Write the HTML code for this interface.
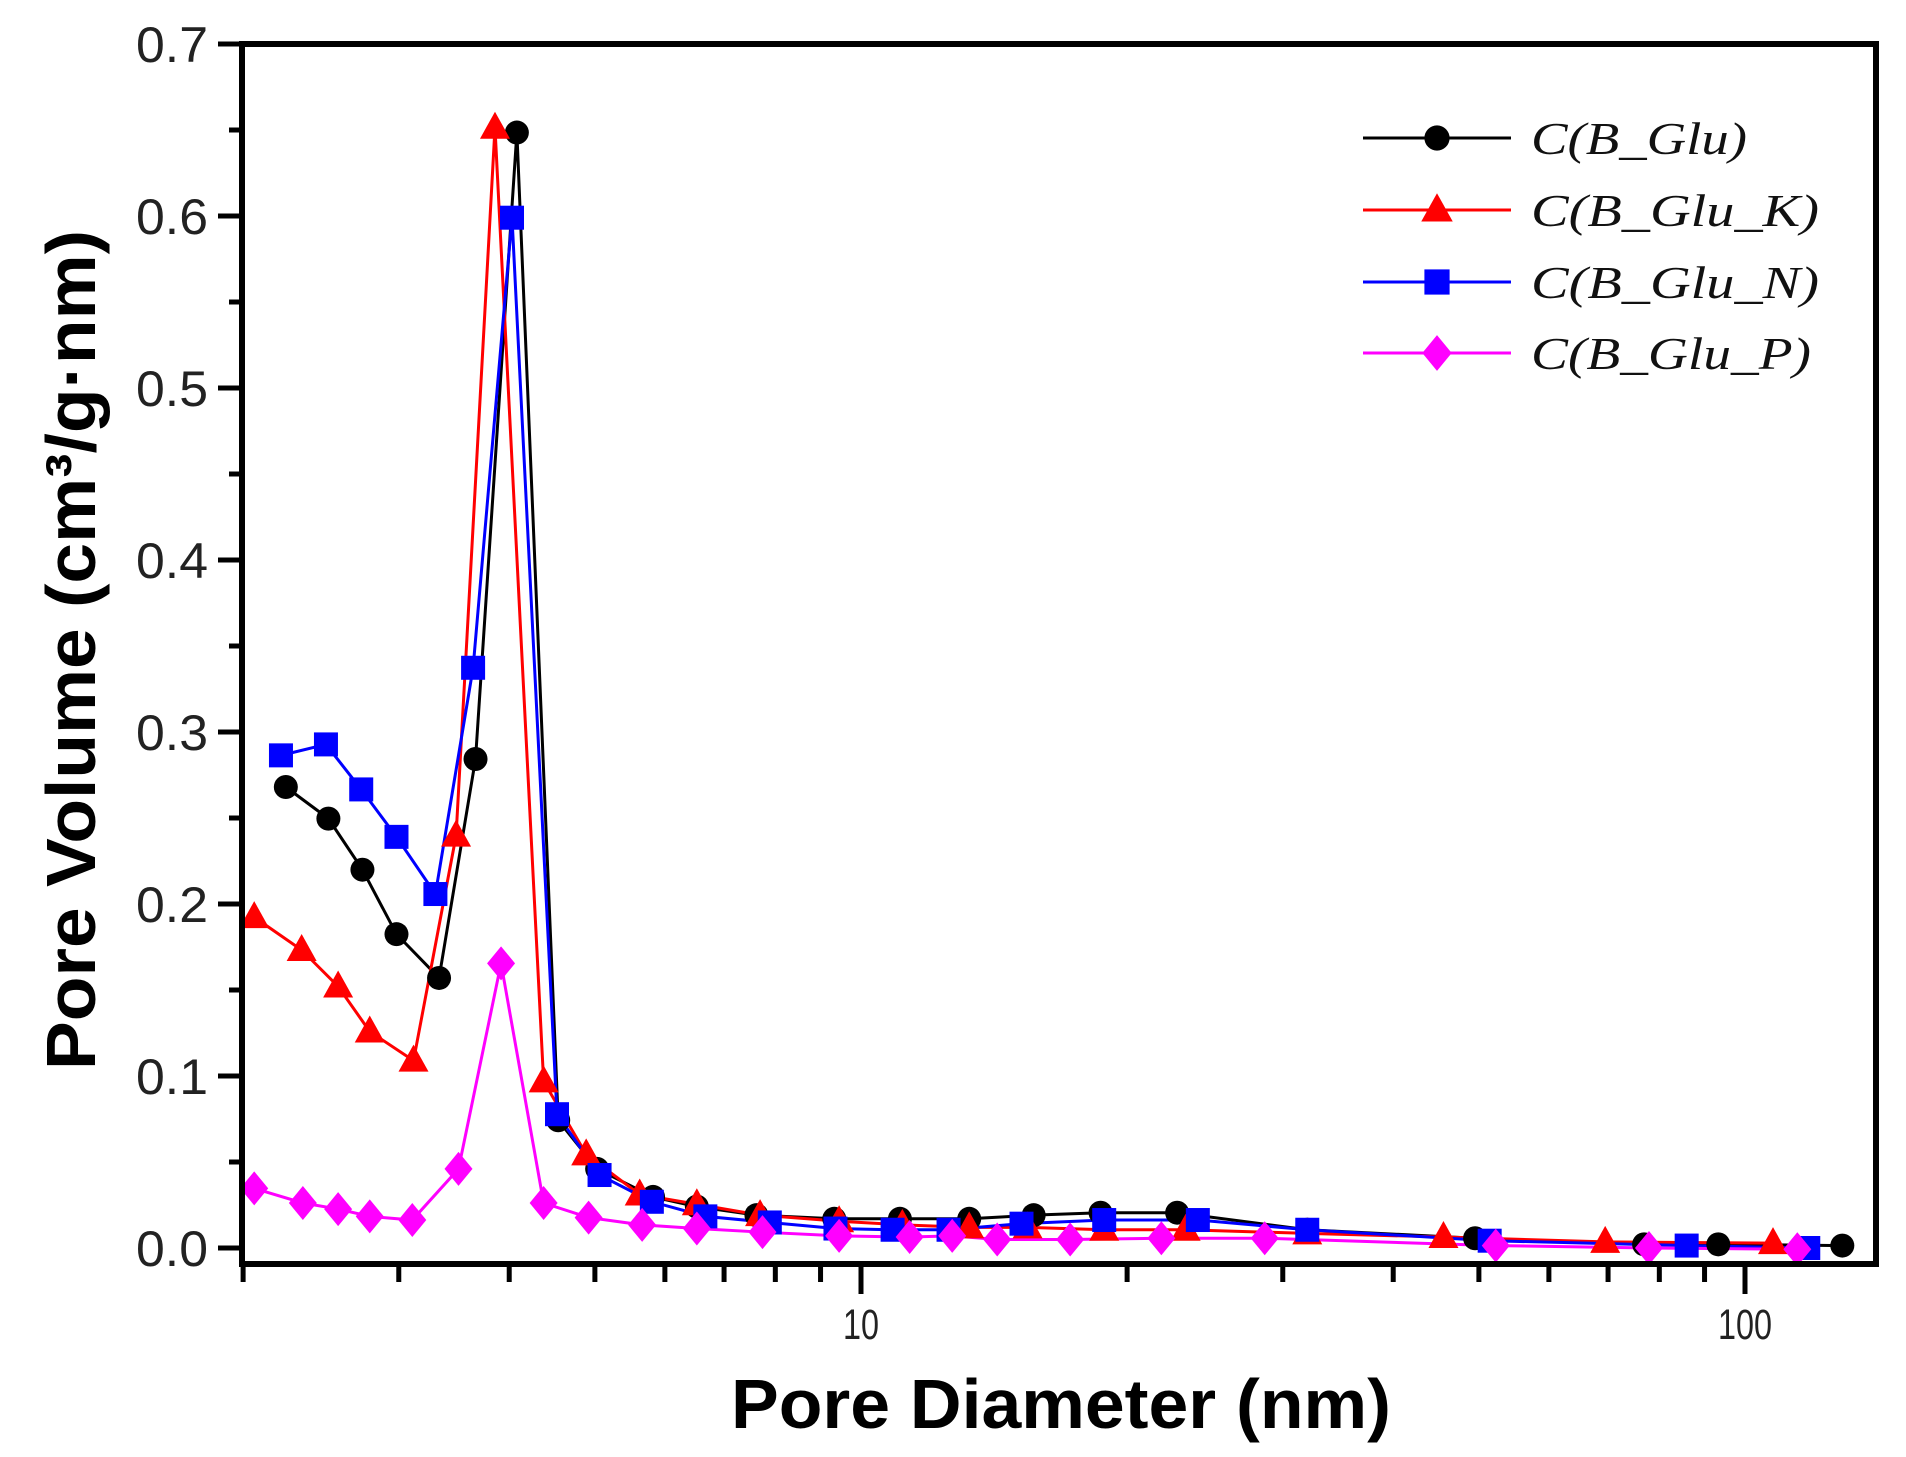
<!DOCTYPE html>
<html><head><meta charset="utf-8"><style>html,body{margin:0;padding:0;background:#fff}svg{display:block}</style></head>
<body>
<svg id="s" width="1906" height="1457" viewBox="0 0 1906 1457" xmlns="http://www.w3.org/2000/svg">
<rect width="1906" height="1457" fill="#fff"/>
<g id="data"></g>
<rect x="242" y="44" width="1634" height="1220" fill="none" stroke="#000" stroke-width="6"/>
<g id="ticks" stroke="#000" stroke-width="5"></g>
<g font-family="Liberation Sans, sans-serif" font-size="50" fill="#222" text-anchor="end" id="ylab"></g>
<g font-family="Liberation Sans, sans-serif" font-size="43" fill="#222" text-anchor="middle">
<text x="861" y="1339" textLength="36" lengthAdjust="spacingAndGlyphs">10</text>
<text x="1745" y="1339" textLength="54" lengthAdjust="spacingAndGlyphs">100</text>
</g>
<text x="1061" y="1428" font-family="Liberation Sans, sans-serif" font-weight="bold" font-size="70" text-anchor="middle" textLength="660" lengthAdjust="spacingAndGlyphs">Pore Diameter (nm)</text>
<text transform="translate(95,650) rotate(-90)" font-family="Liberation Sans, sans-serif" font-weight="bold" font-size="70" text-anchor="middle" textLength="840" lengthAdjust="spacingAndGlyphs">Pore Volume (cm³/g·nm)</text>
<g id="legend" font-family="Liberation Serif, serif" font-style="italic" font-size="46" fill="#111"></g>
</svg>
<script>
const NS="http://www.w3.org/2000/svg";
function el(p,t,a){const e=document.createElementNS(NS,t);for(const k in a)e.setAttribute(k,a[k]);p.appendChild(e);return e;}
function X(dx){return 861+(dx-708)*1.216;}
function Y(dy){return 1248-(1027-dy)*1.2164;}
function mk(g,type,x,y,c,s){
 if(type=='c') el(g,'circle',{cx:x,cy:y,r:12*s,fill:c});
 else if(type=='t') el(g,'polygon',{points:`${x},${y-16*s} ${x+15*s},${y+11*s} ${x-15*s},${y+11*s}`,fill:c});
 else if(type=='s') el(g,'rect',{x:x-12*s,y:y-12*s,width:24*s,height:24*s,fill:c});
 else el(g,'polygon',{points:`${x},${y-17*s} ${x+14*s},${y} ${x},${y+17*s} ${x-14*s},${y}`,fill:c});
}
const series=[
['#000','c',[[235,648],[270,674],[298,716],[326,769],[361,805],[391,625],[425,110],[459,922],[491,962],[537,985],[573,993],[622,1000],[686,1003],[740,1003],[797,1003],[850,1000],[905,998],[968,998],[1075,1012],[1213,1019],[1352,1024],[1413,1024],[1515,1025]]],
['#f00','t',[[209,755],[248,782],[278,812],[304,849],[340,873],[375,688],[407,106],[447,890],[482,950],[526,983],[573,991],[625,1000],[690,1005],[742,1008],[797,1010],[845,1010],[908,1012],[975,1012],[1075,1015],[1187,1018],[1320,1022],[1458,1023]]],
['#00f','s',[[231,622],[268,613],[297,650],[326,689],[358,736],[389,550],[421,180],[458,917],[493,967],[536,989],[580,1001],[633,1006],[687,1011],[734,1012],[780,1012],[840,1007],[908,1004],[985,1004],[1075,1012],[1225,1021],[1387,1025],[1487,1027]]],
['#f0f','d',[[209,978],[249,990],[278,995],[304,1001],[339,1004],[377,962],[412,793],[447,990],[484,1002],[528,1008],[573,1011],[627,1014],[690,1017],[748,1018],[783,1017],[820,1020],[880,1020],[955,1019],[1040,1019],[1230,1025],[1356,1027],[1478,1028]]]
];
const dg=document.getElementById('data');
series.forEach(([c,t,pts])=>{
 el(dg,'polyline',{points:pts.map(p=>X(p[0])+','+Y(p[1])).join(' '),fill:'none',stroke:c,'stroke-width':3});
});
series.forEach(([c,t,pts])=>{pts.forEach(p=>mk(dg,t,X(p[0]),Y(p[1]),c,1));});
const tg=document.getElementById('ticks');
const lx=242,rx=1876,by=1264;
function LX(v){return 861+(Math.log10(v)-1)*884;}
[2,3,4,5,6,7,8,9,20,30,40,50,60,70,80,90].forEach(v=>{const x=LX(v);el(tg,'line',{x1:x,y1:by,x2:x,y2:by+18});});
[10,100].forEach(v=>{const x=LX(v);el(tg,'line',{x1:x,y1:by,x2:x,y2:by+30});});
const yl=document.getElementById('ylab');
for(let i=0;i<=14;i++){const y=1248-i*86;const major=i%2==0;
 el(tg,'line',{x1:lx,y1:y,x2:lx-(major?24:13),y2:y});
 if(major){const t=el(yl,'text',{x:208,y:y+18,textLength:72,lengthAdjust:'spacingAndGlyphs'});t.textContent=(i/20).toFixed(1);}
}
const lg=document.getElementById('legend');
const names=['C(B_Glu)','C(B_Glu_K)','C(B_Glu_N)','C(B_Glu_P)'];
const lens=[216,288,288,280];
const ly=[138,210,282,353];
series.forEach(([c,t],i)=>{
 el(lg,'line',{x1:1363,y1:ly[i],x2:1511,y2:ly[i],stroke:c,'stroke-width':3});
 mk(lg,t,1437,ly[i],c,1.05);
 const tx=el(lg,'text',{x:1531,y:ly[i]+16,textLength:lens[i],lengthAdjust:'spacingAndGlyphs'});tx.textContent=names[i];
});
</script>
</body></html>
